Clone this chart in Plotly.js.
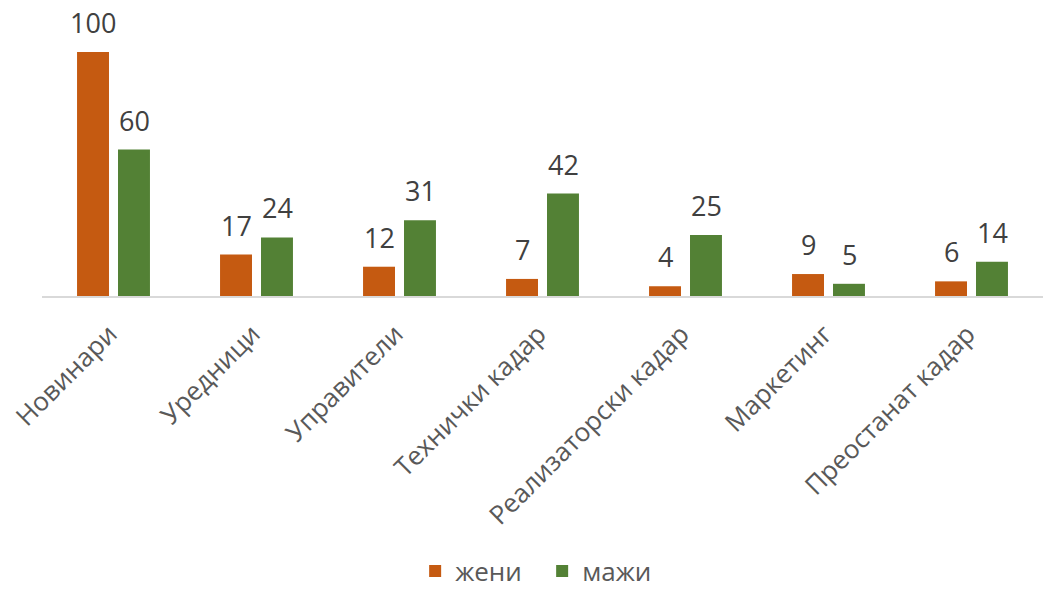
<!DOCTYPE html>
<html>
<head>
<meta charset="utf-8">
<script src="https://cdn.plot.ly/plotly-3.0.1.min.js"></script>
<style>html,body{margin:0;padding:0;background:#fff}#chart{width:1051px;height:590px}</style>
</head>
<body>
<div id="chart"></div>
<script>
const categories = ["Новинари", "Уредници", "Управители", "Технички кадар", "Реализаторски кадар", "Маркетинг", "Преостанат кадар"];
const zeni = [100, 17, 12, 7, 4, 9, 6];
const mazi = [60, 24, 31, 42, 25, 5, 14];
const seriesNames = ["жени", "мажи"];

const font = "'Open Sans', sans-serif";
const traces = [
  {type: "bar", name: seriesNames[0], x: categories, y: zeni, marker: {color: "#C55A11"}, hoverinfo: "y"},
  {type: "bar", name: seriesNames[1], x: categories, y: mazi, marker: {color: "#538135"}, hoverinfo: "y"}
];
const annotations = [];
[zeni, mazi].forEach((vals, i) => {
  vals.forEach((v, j) => {
    annotations.push({x: categories[j], y: v, xref: "x", yref: "y", text: String(v), showarrow: false,
      xshift: i === 0 ? -20.5 : 20.5, yshift: 9, yanchor: "bottom",
      font: {size: 27, color: "#404040", family: font}});
  });
});
const layout = {
  width: 1051, height: 590,
  margin: {l: 42, r: 8, t: 52, b: 294, autoexpand: false},
  paper_bgcolor: "#fff", plot_bgcolor: "#fff",
  barmode: "group", bargap: 0.427, bargroupgap: 0.22,
  font: {family: font, color: "#595959", size: 25},
  xaxis: {tickangle: -45, showline: true, linecolor: "#D9D9D9", linewidth: 1.5,
          ticks: "", tickfont: {size: 26, color: "#595959"}, fixedrange: true, automargin: false,
          ticklabelstandoff: 11, ticklabelshift: -4},
  yaxis: {range: [0, 100], visible: false, showgrid: false, zeroline: false, fixedrange: true},
  annotations: annotations,
  showlegend: true,
  legend: {orientation: "h", xref: "container", x: 0.395, xanchor: "left", yref: "container", y: 0.032, yanchor: "middle",
           font: {size: 26, color: "#595959"}, itemwidth: 30, entrywidth: 82, entrywidthmode: "pixels"},
};
Plotly.newPlot("chart", traces, layout, {displayModeBar: false, staticPlot: true});
</script>
</body>
</html>
